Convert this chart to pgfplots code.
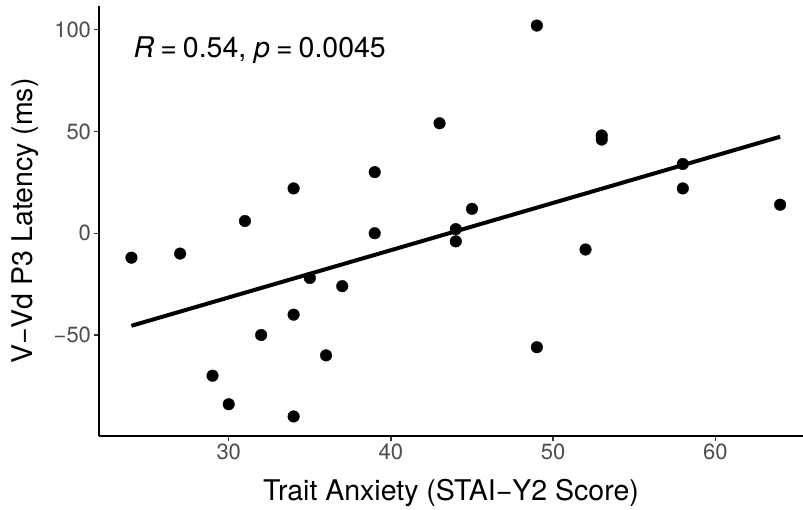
\documentclass[border=0pt]{standalone}
\usepackage{fontspec}
\setmainfont{TeX Gyre Heros}
\usepackage{pgfplots}
\pgfplotsset{compat=1.18}
\usepackage{pgfplotstable}
\definecolor{ticklab}{HTML}{4D4D4D}
\definecolor{tickcol}{HTML}{333333}

\pgfplotstableread{
x y
24 -12
27 -10
29 -70
30 -84
31 6
32 -50
34 22
34 -40
34 -90
35 -22
36 -60
37 -26
39 30
39 0
43 54
44 2
44 -4
45 12
49 102
49 -56
52 -8
53 48
53 46
58 34
58 22
64 14
}\data

\begin{document}
\begin{tikzpicture}
\begin{axis}[
  scale only axis,
  width=704pt, height=430pt,
  xmin=22, xmax=65.41,
  ymin=-99.6, ymax=111.6,
  axis x line=bottom, axis y line=left,
  axis line style={-, line width=1.3pt, black},
  xtick={30,40,50,60},
  ytick={-50,0,50,100},
  yticklabels={−50,0,50,100},
  xticklabels={30,40,50,60},
  tick align=outside,
  major tick length=4.5pt,
  tick style={line width=1.3pt, tickcol},
  ticklabel style={font=\fontsize{22}{26}\selectfont, text=ticklab},
  xlabel={Trait Anxiety (STAI−Y2 Score)},
  ylabel={V−Vd P3 Latency (ms)},
  every axis x label/.style={at={(axis description cs:0.5,0)}, anchor=base, yshift=-64pt, font=\fontsize{28.5}{33}\selectfont, text=black},
  every axis y label/.style={at={(axis description cs:0,0.5)}, anchor=base, rotate=90, yshift=66pt, font=\fontsize{28.5}{33}\selectfont, text=black},
  clip=false,
]
\addplot[only marks, mark=*, mark size=5.8pt, mark options={draw=none, fill=black}] table[x=x, y=y] {\data};
\addplot[no marks, line width=4pt, black] table[x=x, y={create col/linear regression={y=y}}] {\data};
\node[anchor=base west, inner sep=0pt, font=\fontsize{28.5}{33}\selectfont] at (axis cs:24.13,86.5) {\textit{R}\hspace{0.21em}=\hspace{0.21em}0.54, \textit{p}\hspace{0.21em}=\hspace{0.21em}0.0045};
\end{axis}
\pgfresetboundingbox
\useasboundingbox (-99pt,-73pt) rectangle (704pt,436pt);
\end{tikzpicture}
\end{document}
